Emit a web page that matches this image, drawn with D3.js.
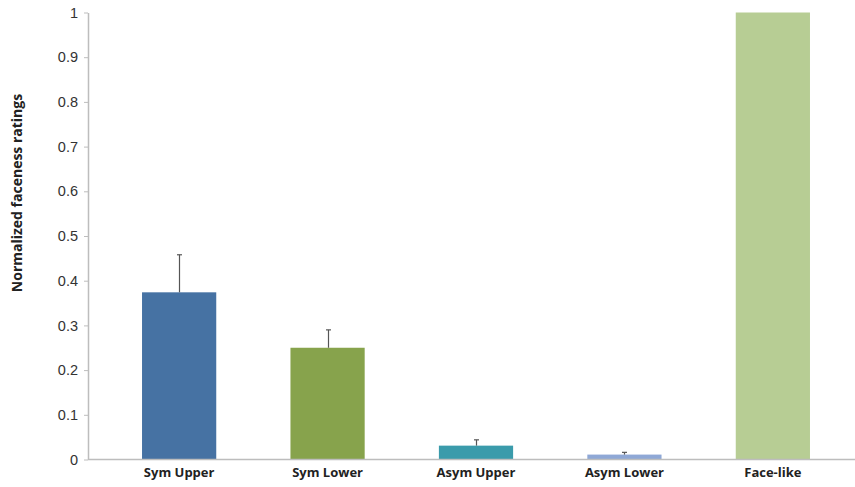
<!DOCTYPE html>
<html>
<head>
<meta charset="utf-8">
<script src="https://cdn.jsdelivr.net/npm/d3@7"></script>
<style>
  html, body { margin: 0; padding: 0; background: #fff; }
  svg { display: block; }
</style>
</head>
<body>
<svg id="chart" width="855" height="487"></svg>
<script>
// Mean normalized faceness ratings per stimulus type, with upward error bars
const categories = ["Sym Upper", "Sym Lower", "Asym Upper", "Asym Lower", "Face-like"];
const means = [0.374, 0.250, 0.031, 0.011, 1.0];
const errors = [0.084, 0.040, 0.013, 0.005, 0];
const barColors = ["#4672a3", "#87a34c", "#3a9bab", "#8fa8d6", "#b7cd94"];
const yTicks = [0, 0.1, 0.2, 0.3, 0.4, 0.5, 0.6, 0.7, 0.8, 0.9, 1];

const svg = d3.select("#chart");
const x0 = 88, yBase = 459.5, yTop = 12.5;

const x = d3.scaleBand()
  .domain(categories)
  .range([x0, 864])
  .paddingInner(0.5)
  .paddingOuter(0.364);

const y = d3.scaleLinear().domain([0, 1]).range([yBase, yTop]);

// Bars
svg.append("g").selectAll("rect")
  .data(categories)
  .join("rect")
  .attr("x", d => x(d))
  .attr("y", (d, i) => y(means[i]))
  .attr("width", x.bandwidth())
  .attr("height", (d, i) => yBase - y(means[i]))
  .attr("fill", (d, i) => barColors[i]);

// Error bars (upper half only)
const eb = svg.append("g").attr("stroke", "#555").attr("stroke-width", 1.2);
categories.forEach((c, i) => {
  if (errors[i] <= 0) return;
  const cx = Math.round(x(c) + x.bandwidth() / 2) + 0.5;
  eb.append("line")
    .attr("x1", cx).attr("x2", cx)
    .attr("y1", y(means[i])).attr("y2", y(means[i] + errors[i]));
  eb.append("line")
    .attr("x1", cx - 2.5).attr("x2", cx + 2.5)
    .attr("y1", y(means[i] + errors[i])).attr("y2", y(means[i] + errors[i]));
});

// Y axis
const yAxis = svg.append("g")
  .attr("transform", `translate(${x0},0)`)
  .call(d3.axisLeft(y).tickValues(yTicks).tickFormat(d3.format("")).tickSize(4).tickSizeOuter(0));
yAxis.select(".domain").attr("stroke", "#bdbdbd").attr("stroke-width", 1.5);
yAxis.selectAll(".tick line").attr("stroke", "#bdbdbd");
yAxis.selectAll(".tick text")
  .attr("x", -10)
  .attr("fill", "#333")
  .style("font-family", "'Liberation Sans', Arial, sans-serif")
  .style("font-size", "14.5px");

// X axis
const xAxis = svg.append("g")
  .attr("transform", `translate(0,${yBase})`)
  .call(d3.axisBottom(x).tickSize(0).tickSizeOuter(0));
xAxis.select(".domain").attr("stroke", "#bdbdbd").attr("stroke-width", 1.5)
  .attr("d", `M${x0},0H855`);
xAxis.selectAll(".tick text")
  .attr("y", 8)
  .attr("fill", "#222")
  .style("font-family", "'Open Sans', sans-serif")
  .style("font-weight", "bold")
  .style("font-size", "13px");

// Y axis title
svg.append("text")
  .attr("transform", "translate(22,193) rotate(-90)")
  .attr("text-anchor", "middle")
  .attr("fill", "#222")
  .style("font-family", "'Open Sans', sans-serif")
  .style("font-weight", "bold")
  .style("font-size", "14px")
  .text("Normalized faceness ratings");
</script>
</body>
</html>
